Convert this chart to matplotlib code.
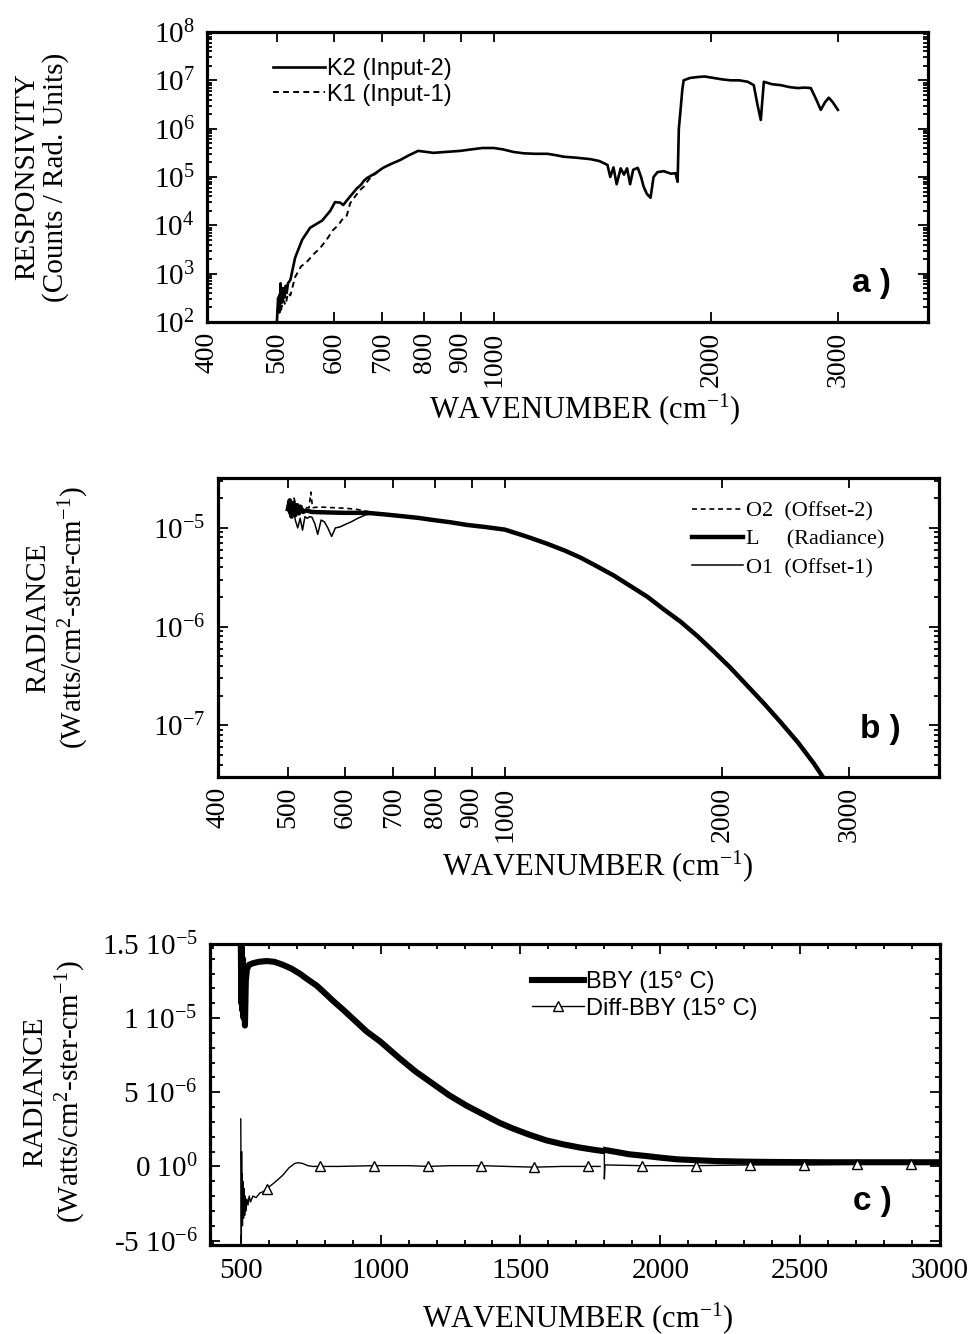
import numpy as np
import matplotlib
matplotlib.use('Agg')
import matplotlib.pyplot as plt
from matplotlib.ticker import LogLocator, NullFormatter, NullLocator, MultipleLocator

plt.rcParams['font.family'] = ['Liberation Serif', 'DejaVu Serif']
plt.rcParams['mathtext.fontset'] = 'custom'
plt.rcParams['mathtext.rm'] = 'Liberation Serif'
plt.rcParams['mathtext.it'] = 'Liberation Serif:italic'
plt.rcParams['mathtext.bf'] = 'Liberation Serif:bold'

# ---------------- Panel a: responsivity ----------------
k2_wn = [500, 502, 504, 506, 508, 510, 512, 514, 516, 518, 522, 530, 542, 556, 578, 593,
         602, 612, 618, 628, 646, 650, 655, 660, 667, 685, 702, 720, 741, 760, 785, 805,
         824, 860, 898, 930, 964, 1000, 1030, 1064, 1100, 1140, 1186, 1220, 1249, 1300,
         1361, 1400, 1437, 1450, 1465, 1480, 1499, 1515, 1530, 1545, 1560, 1583, 1600,
         1613, 1630, 1649, 1665, 1686, 1720, 1760, 1786, 1798, 1805, 1815, 1825, 1833,
         1870, 1917, 1960, 2017, 2070, 2130, 2190, 2250, 2293, 2320, 2345, 2368, 2430,
         2500, 2570, 2640, 2700, 2751, 2800, 2840, 2880, 2914, 2950, 3000]
k2_resp = [100, 316, 158, 631, 251, 501, 316, 562, 398, 631, 741, 2140, 5010, 8910, 12600,
           20000, 30200, 29500, 26300, 35500, 58900, 63100, 70800, 83200, 95500, 120000,
           155000, 186000, 224000, 275000, 347000, 331000, 316000, 331000, 347000, 372000,
           398000, 398000, 372000, 330000, 309000, 302000, 302000, 282000, 263000, 251000,
           234000, 214000, 178000, 100000, 158000, 70800, 151000, 112000, 151000, 70800,
           141000, 155000, 100000, 63100, 44700, 37200, 100000, 126000, 132000, 117000,
           120000, 79400, 1.0e6, 2.45e6, 6.31e6, 1.0e7, 1.12e7, 1.17e7, 1.20e7, 1.12e7,
           1.05e7, 1.0e7, 1.0e7, 9.33e6, 7.94e6, 3.16e6, 1.51e6, 9.33e6, 8.32e6, 7.94e6,
           7.24e6, 6.92e6, 7.08e6, 6.92e6, 3.98e6, 2.45e6, 3.55e6, 4.37e6, 3.55e6, 2.45e6]
k1_wn = [500, 503, 506, 510, 514, 518, 522, 530, 540, 550, 562, 574, 586, 598, 608, 618,
         625, 632, 642, 652, 660, 667, 675, 690]
k1_resp = [100, 398, 158, 288, 224, 398, 355, 851, 1410, 1740, 2510, 3390, 5010, 7940,
           10000, 14100, 15800, 28800, 39800, 53700, 63100, 79400, 100000, 126000]

log_xticks = [400, 500, 600, 700, 800, 900, 1000, 2000, 3000]
a_yticks = [1e2, 1e3, 1e4, 1e5, 1e6, 1e7, 1e8]
a_yticklabels = [r'$10^{2}$', r'$10^{3}$', r'$10^{4}$', r'$10^{5}$', r'$10^{6}$',
                 r'$10^{7}$', r'$10^{8}$']

# ---------------- Panel b: radiance (log) ----------------
b_L_wn = [500, 503, 506, 509, 512, 515, 518, 521, 525, 530, 540, 555, 575, 600, 644, 680,
          716, 760, 796, 840, 887, 940, 1000, 1070, 1145, 1210, 1273, 1340, 1415, 1490,
          1577, 1660, 1753, 1850, 1948, 2050, 2171, 2290, 2414, 2550, 2683, 2760]
b_L = [1.55e-5, 1.9e-5, 1.3e-5, 1.8e-5, 1.35e-5, 1.7e-5, 1.4e-5, 1.6e-5, 1.45e-5, 1.5e-5,
       1.45e-5, 1.44e-5, 1.43e-5, 1.42e-5, 1.42e-5, 1.37e-5, 1.32e-5, 1.26e-5, 1.20e-5,
       1.14e-5, 1.07e-5, 1.02e-5, 9.6e-6, 8.2e-6, 6.9e-6, 5.9e-6, 5.0e-6, 4.1e-6, 3.3e-6,
       2.6e-6, 2.0e-6, 1.5e-6, 1.12e-6, 8.0e-7, 5.6e-7, 3.9e-7, 2.5e-7, 1.65e-7, 1.07e-7,
       6.7e-8, 4.1e-8, 3.0e-8]
b_O1_wn = [500, 504, 508, 512, 516, 520, 524, 528, 532, 536, 540, 545, 550, 556, 562, 568,
           575, 582, 590, 600, 612, 625, 640, 660, 700]
b_O1 = [1.5e-5, 1.3e-5, 1.7e-5, 1.2e-5, 1.0e-5, 1.25e-5, 9.5e-6, 1.3e-5, 1.25e-5, 1.3e-5,
        1.28e-5, 1.1e-5, 8.6e-6, 1.2e-5, 1.15e-5, 1.0e-5, 8.2e-6, 1.0e-5, 1.02e-5, 1.08e-5,
        1.15e-5, 1.25e-5, 1.35e-5, 1.4e-5, 1.35e-5]
b_O2_wn = [500, 505, 510, 515, 520, 528, 535, 538, 541, 548, 560, 580, 600, 620, 640, 660, 680]
b_O2 = [1.8e-5, 1.4e-5, 2.0e-5, 1.5e-5, 1.7e-5, 1.6e-5, 1.6e-5, 2.3e-5, 1.6e-5, 1.62e-5,
        1.62e-5, 1.6e-5, 1.58e-5, 1.55e-5, 1.48e-5, 1.42e-5, 1.37e-5]
b_yticks = [1e-7, 1e-6, 1e-5]
b_yticklabels = [r'$10^{-7}$', r'$10^{-6}$', r'$10^{-5}$']

# ---------------- Panel c: radiance (linear) ----------------
bby_wn = [500, 502, 504, 506, 508, 510, 512, 515, 518, 522, 530, 543, 565, 593, 620, 650,
          680, 711, 740, 771, 800, 828, 870, 910, 950, 1000, 1067, 1125, 1185, 1245, 1307,
          1353, 1424, 1471, 1530, 1592, 1650, 1710, 1770, 1790, 1795, 1805, 1850, 1888,
          1950, 2006, 2060, 2127, 2200, 2306, 2400, 2500, 2600, 2700, 2800, 2900, 3000]
bby = [1.55e-5, 1.1e-5, 1.48e-5, 1.05e-5, 1.4e-5, 1.0e-5, 1.3e-5, 9.5e-6, 1.25e-5,
       1.33e-5, 1.36e-5, 1.37e-5, 1.38e-5, 1.385e-5, 1.38e-5, 1.36e-5, 1.335e-5, 1.30e-5,
       1.26e-5, 1.22e-5, 1.17e-5, 1.12e-5, 1.05e-5, 9.8e-6, 9.1e-6, 8.4e-6, 7.3e-6, 6.4e-6,
       5.6e-6, 4.8e-6, 4.1e-6, 3.65e-6, 2.95e-6, 2.57e-6, 2.15e-6, 1.76e-6, 1.5e-6, 1.28e-6,
       1.1e-6, 1.05e-6, np.nan, 1.1e-6, 0.95e-6, 0.82e-6, 0.7e-6, 0.58e-6, 0.48e-6, 0.42e-6,
       0.36e-6, 0.32e-6, 0.3e-6, 0.29e-6, 0.28e-6, 0.28e-6, 0.28e-6, 0.28e-6, 0.28e-6]
diff_wn = [500, 501, 502, 503, 504, 505, 506, 508, 510, 512, 514, 516, 519, 522, 526, 530,
           535, 543, 555, 568, 580, 593, 620, 650, 672, 693, 705, 721, 740, 757, 785, 850,
           978, 1100, 1170, 1250, 1360, 1450, 1550, 1650, 1742, 1785, 1792,
           1800, 1800, 1802, 1935, 2127, 2320, 2512, 2705, 2898, 3000]
diff = [3.2e-6, -1.0e-6, -5.1e-6, 1.0e-6, -2.5e-6, -0.5e-6, -4.0e-6, -1.0e-6, -3.5e-6,
        -1.5e-6, -3.3e-6, -2.0e-6, -3.0e-6, -2.2e-6, -2.6e-6, -2.0e-6, -2.4e-6, -2.0e-6,
        -2.1e-6, -1.8e-6, -1.7e-6, -1.5e-6, -1.1e-6, -0.6e-6, -0.1e-6, 0.2e-6, 0.25e-6,
        0.2e-6, 0.05e-6, 0.0, 0.0, 0.0, 0.05e-6, 0.05e-6, 0.0, 0.05e-6, 0.05e-6, 0.0,
        -0.05e-6, 0.0, 0.0, 0.0, np.nan,
        1.15e-6, -0.85e-6, 0.1e-6, 0.05e-6, 0.05e-6, 0.1e-6, 0.1e-6, 0.15e-6, 0.15e-6, 0.2e-6]
diff_marker_wn = [593, 785, 978, 1170, 1360, 1550, 1742, 1935, 2127, 2320, 2512, 2705, 2898]
c_yticks = [-5e-6, 0, 5e-6, 1e-5, 1.5e-5]
c_yticklabels = [r'-5 10$^{-6}$', r'0 10$^{0}$', r'5 10$^{-6}$', r'1 10$^{-5}$',
                 r'1.5 10$^{-5}$']
c_xticks = [500, 1000, 1500, 2000, 2500, 3000]

# ---------------- Figure ----------------
W, H = 970, 1334
fig = plt.figure(figsize=(W / 100, H / 100), dpi=100)


def axes_px(l, t, r, b):
    return fig.add_axes([l / W, 1 - b / H, (r - l) / W, (b - t) / H])


def style(ax):
    for s in ax.spines.values():
        s.set_linewidth(2.3)
    ax.tick_params(which='both', direction='in', top=True, right=True, width=1.3,
                   pad=9, colors='black')
    ax.tick_params(which='major', length=7)
    ax.tick_params(which='minor', length=3.5)


SANS = ['Liberation Sans', 'DejaVu Sans']
TICKFS = 21
XROTFS = 20
LABFS = 22
YLABFS = 21

# Panel a
ax_a = axes_px(207, 32, 928, 322)
ax_a.plot(k2_wn, k2_resp, color='black', lw=1.9, label='K2 (Input-2)')
ax_a.plot(k1_wn, k1_resp, color='black', lw=1.4, ls=(0, (3, 2.2)), label='K1 (Input-1)')
ax_a.set_xscale('log')
ax_a.set_yscale('log')
ax_a.set_xlim(400, 4000)
ax_a.set_ylim(1e2, 1e8)
style(ax_a)
ax_a.tick_params(axis='x', pad=7)
ax_a.xaxis.set_minor_locator(NullLocator())
ax_a.set_xticks(log_xticks, labels=[str(v) for v in log_xticks], rotation=90, fontsize=XROTFS)
ax_a.set_yticks(a_yticks, labels=a_yticklabels, fontsize=TICKFS)
ax_a.yaxis.set_minor_locator(LogLocator(base=10, subs=np.arange(2, 10), numticks=20))
ax_a.yaxis.set_minor_formatter(NullFormatter())
ax_a.legend(loc='upper left', bbox_to_anchor=(273 / W, 1 - 58 / H), bbox_transform=fig.transFigure,
            frameon=False, borderpad=0, borderaxespad=0, handlelength=2.2, handletextpad=0.1,
            labelspacing=0.15, prop={'family': SANS, 'size': 17})
fig.text(852 / W, 1 - 292 / H, 'a )', family=SANS, weight='bold', fontsize=24,
         ha='left', va='baseline')
fig.text(42 / W, 1 - 177 / H, 'RESPONSIVITY\n(Counts / Rad. Units)', rotation=90,
         ha='center', va='center', multialignment='center', fontsize=YLABFS, linespacing=1.1)
fig.text(585 / W, 1 - 418 / H, r'WAVENUMBER (cm$^{-1}$)', ha='center', va='baseline',
         fontsize=LABFS)

# Panel b
ax_b = axes_px(218, 478, 939, 777)
ax_b.plot(b_O2_wn, b_O2, color='black', lw=1.2, ls=(0, (3, 2.2)), label='O2  (Offset-2)')
ax_b.plot(b_L_wn, b_L, color='black', lw=3.2, label='L     (Radiance)')
ax_b.plot(b_O1_wn, b_O1, color='black', lw=1.1, label='O1  (Offset-1)')
ax_b.set_xscale('log')
ax_b.set_yscale('log')
ax_b.set_xlim(400, 4000)
ax_b.set_ylim(3.0e-8, 3.2e-5)
style(ax_b)
ax_b.tick_params(axis='x', pad=7)
ax_b.xaxis.set_minor_locator(NullLocator())
ax_b.set_xticks(log_xticks, labels=[str(v) for v in log_xticks], rotation=90, fontsize=XROTFS)
ax_b.set_yticks(b_yticks, labels=b_yticklabels, fontsize=TICKFS)
ax_b.yaxis.set_minor_locator(LogLocator(base=10, subs=np.arange(2, 10), numticks=20))
ax_b.yaxis.set_minor_formatter(NullFormatter())
ax_b.legend(loc='upper left', bbox_to_anchor=(692 / W, 1 - 501 / H), bbox_transform=fig.transFigure,
            frameon=False, borderpad=0, borderaxespad=0, handlelength=2.3, handletextpad=0.15,
            labelspacing=0.35, prop={'size': 16})
fig.text(860 / W, 1 - 738 / H, 'b )', family=SANS, weight='bold', fontsize=24,
         ha='left', va='baseline')
fig.text(58 / W, 1 - 618 / H, 'RADIANCE\n' + r'(Watts/cm$^{2}$-ster-cm$^{-1}$)', rotation=90,
         ha='center', va='center', multialignment='center', fontsize=YLABFS, linespacing=1.2)
fig.text(598 / W, 1 - 875 / H, r'WAVENUMBER (cm$^{-1}$)', ha='center', va='baseline',
         fontsize=LABFS)

# Panel c
ax_c = axes_px(210, 944, 940, 1245)
ax_c.plot(bby_wn, bby, color='black', lw=4.4, label='BBY (15° C)')
marker_idx = [i for i, w in enumerate(diff_wn) if w in diff_marker_wn]
ax_c.plot(diff_wn, diff, color='black', lw=1.0, marker='^', markersize=7,
          markerfacecolor='white', markeredgecolor='black', markeredgewidth=1.0,
          markevery=marker_idx, label='Diff-BBY (15° C)')
ax_c.set_xlim(390, 3000)
ax_c.set_ylim(-5.3e-6, 1.5e-5)
style(ax_c)
ax_c.set_xticks(c_xticks, labels=[str(v) for v in c_xticks], fontsize=TICKFS)
ax_c.xaxis.set_minor_locator(MultipleLocator(100))
ax_c.set_yticks(c_yticks, labels=c_yticklabels, fontsize=TICKFS)
ax_c.yaxis.set_minor_locator(MultipleLocator(1e-6))
ax_c.legend(loc='upper left', bbox_to_anchor=(532 / W, 1 - 971 / H), bbox_transform=fig.transFigure,
            frameon=False, borderpad=0, borderaxespad=0, handlelength=2.2, handletextpad=0.1,
            labelspacing=0.2, numpoints=1, prop={'family': SANS, 'size': 17})
fig.text(853 / W, 1 - 1210 / H, 'c )', family=SANS, weight='bold', fontsize=24,
         ha='left', va='baseline')
fig.text(55 / W, 1 - 1092 / H, 'RADIANCE\n' + r'(Watts/cm$^{2}$-ster-cm$^{-1}$)', rotation=90,
         ha='center', va='center', multialignment='center', fontsize=YLABFS, linespacing=1.2)
fig.text(578 / W, 1 - 1327 / H, r'WAVENUMBER (cm$^{-1}$)', ha='center', va='baseline',
         fontsize=LABFS)

fig.savefig('out.png', dpi=100)
